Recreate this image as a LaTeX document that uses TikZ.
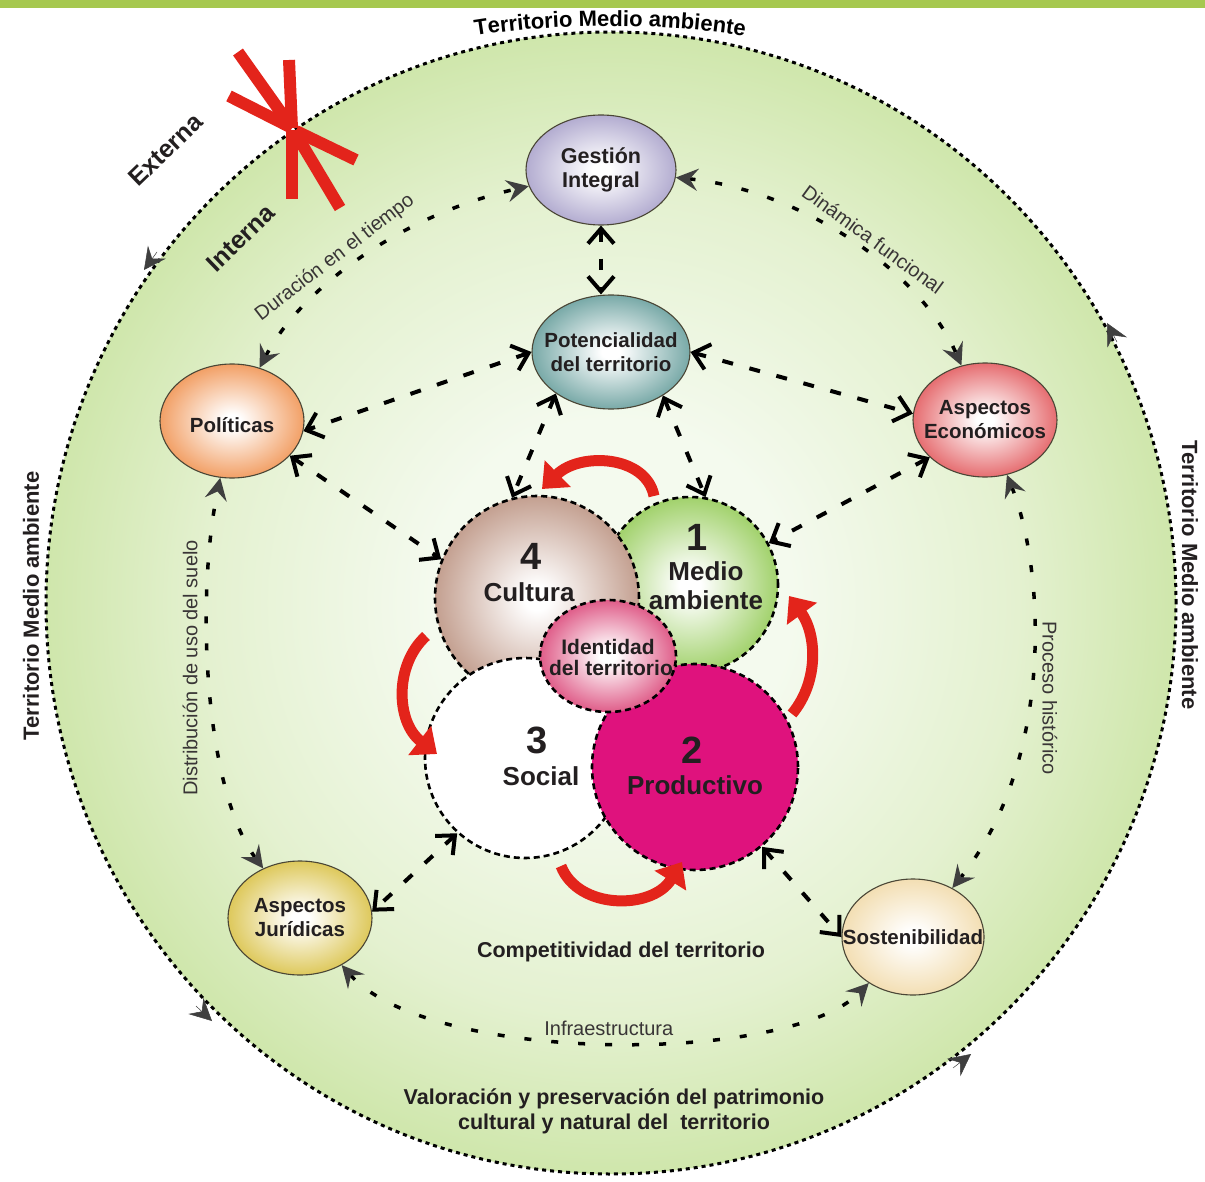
\documentclass[tikz,border=0pt]{standalone}
\usepackage{fontspec}
\setmainfont{Liberation Sans}
\usetikzlibrary{arrows.meta,decorations.text,shapes.geometric,calc}
\definecolor{banner}{HTML}{A6C84F}
\definecolor{cA}{HTML}{F4FAEE}
\definecolor{cB}{HTML}{E4F1D0}
\definecolor{cC}{HTML}{C6E29C}
\definecolor{cD}{HTML}{A8D06A}
\definecolor{cE}{HTML}{9CC957}
\definecolor{ballin}{HTML}{FFFFFF}
\definecolor{ballout}{HTML}{888888}
\definecolor{txt}{HTML}{231F20}
\definecolor{tipgray}{HTML}{3F3F3F}
\definecolor{redA}{HTML}{E3241B}
\definecolor{redB}{HTML}{B01812}
\definecolor{ellline}{HTML}{4A4636}
\definecolor{cGest}{HTML}{A29AC6}
\definecolor{cPot}{HTML}{5A9694}
\definecolor{cPol}{HTML}{EF8A43}
\definecolor{cEco}{HTML}{E04C50}
\definecolor{cJur}{HTML}{D6BC36}
\definecolor{cSost}{HTML}{F0D7A2}
\definecolor{cCul}{HTML}{B68A77}
\definecolor{cMed}{HTML}{8CC74A}
\definecolor{cProd}{HTML}{DF127D}
\definecolor{cIdent}{HTML}{D8386E}
\pgfdeclareradialshading{bigfill}{\pgfpoint{0bp}{0bp}}{color(0bp)=(cA); color(8bp)=(cA); color(18bp)=(cB); color(28bp)=(cC); color(38bp)=(cD); color(50bp)=(cE)}
\pgfdeclareradialshading[ballin,ballout]{softball}{\pgfpoint{0bp}{0bp}}{color(0bp)=(ballin); color(3bp)=(ballin); color(30bp)=(ballout); color(50bp)=(ballout)}
\tikzset{
  barb/.tip={Straight Barb[length=15pt,width=26pt,line width=4pt]},
  gtip/.tip={Stealth[length=22pt,width=22pt,inset=8pt,color=tipgray]},
  rtip/.tip={Triangle[length=22pt,width=36pt]},
}
\begin{document}
\begin{tikzpicture}[x=1pt,y=-1pt,
  every node/.style={text=txt},
  ball/.style={shade, shading=softball, /utils/exec={\colorlet{ballin}{white}\colorlet{ballout}{#1}}},
  sat/.style={ellipse, draw=ellline, line width=1.1pt, minimum width=144pt, minimum height=114pt, inner sep=0pt},
  sattxt/.style={align=center, font=\bfseries\fontsize{20.5}{24}\selectfont},
  cen/.style={circle, draw=black, line width=2.6pt, dash pattern=on 6pt off 4pt, inner sep=0pt},
  heavy/.style={draw=black, line width=4pt, dash pattern=on 11pt off 17pt, arrows={barb-barb}},
  ring/.style={draw=black, line width=3.5pt, dash pattern=on 7pt off 20pt, arrows={gtip-gtip}},
  ringlbl/.style={font=\fontsize{20}{22}\selectfont, text=txt!90, inner sep=5pt},
  outer/.style={draw=black, line width=3pt, dash pattern=on 4pt off 4pt},
  otip/.style={draw=tipgray, line width=0.5pt, arrows={-gtip}},
  redarr/.style={draw=redA, line width=11pt, arrows={-rtip}},
  redx/.style={draw=redA, line width=12pt},
  big/.style={font=\bfseries\fontsize{26}{30}\selectfont},
  num/.style={font=\bfseries\fontsize{38}{40}\selectfont},
  lbl/.style={font=\bfseries\fontsize{21.5}{26}\selectfont, align=center},
  rimtxt/.style={font=\bfseries\fontsize{22}{24}\selectfont},
]
\useasboundingbox (0,0) rectangle (1205,1182);
\fill[white] (0,0) rectangle (1205,1182);
\fill[banner] (0,0) rectangle (1205,8);

% big circle
\shade[shading=bigfill] (611,603) ellipse [x radius=565pt, y radius=571pt];
\draw[outer] (611,603) ellipse [x radius=565pt, y radius=571pt];

% outer circle direction arrowheads
\coordinate (o1a) at (157,252); \coordinate (o1b) at (144,270);
\coordinate (o2a) at (1117,342); \coordinate (o2b) at (1107,323);
\coordinate (o3a) at (196,1006); \coordinate (o3b) at (212,1021);
\coordinate (o4a) at (953,1068); \coordinate (o4b) at (971,1054);
\draw[otip] (o1a) -- (o1b);
\draw[otip] (o2a) -- (o2b);
\draw[otip] (o3a) -- (o3b);
\draw[otip] (o4a) -- (o4b);

% labels on the outer circle
\path[decorate, decoration={text along path, text align=center,
  text={|\bfseries\fontsize{22}{24}\selectfont|Territorio Medio ambiente}}]
  (445,42) .. controls (535,21) and (685,21) .. (775,42);
\node[rotate=90, rimtxt] (tleft) at (31,606) {Territorio Medio ambiente};
\node[rotate=-90, rimtxt] (tright) at (1190,575) {Territorio Medio ambiente};
\node[rotate=44, font=\bfseries\fontsize{25}{28}\selectfont] (ext) at (166,150) {Externa};
\node[rotate=44, font=\bfseries\fontsize{25}{28}\selectfont] (int) at (241,238) {Interna};

% red cross marker
\draw[redx] (238,52) -- (292,128);
\draw[redx] (229,96) -- (292,128);
\draw[redx] (289,60) -- (292,128);
\draw[redx] (292,130) -- (292,199);
\draw[redx] (294,131) -- (340,208);
\draw[redx] (296,131) -- (356,160);

% satellite nodes
\node[sat, ball=cGest, minimum width=150pt, minimum height=110pt] (gest) at (601,170) {};
\node[sat, ball=cPot, minimum width=158pt, minimum height=114pt] (pot) at (611,352) {};
\node[sat, ball=cPol] (pol) at (232,421) {};
\node[sat, ball=cEco] (eco) at (985,420) {};
\node[sat, ball=cJur] (jur) at (300,918) {};
\node[sat, ball=cSost, minimum width=142pt, minimum height=116pt] (sost) at (913,937) {};
\node[sattxt, font=\bfseries\fontsize{21.5}{24}\selectfont] (gestT) at (gest) {Gestión\\Integral};
\node[sattxt, font=\bfseries\fontsize{20.5}{24}\selectfont] (potT) at (pot) {Potencialidad\\del territorio};
\node[sattxt] (polT) at (232,425) {Políticas};
\node[sattxt] (ecoT) at (eco) {Aspectos\\Económicos};
\node[sattxt] (jurT) at (jur) {Aspectos\\Jurídicas};
\node[sattxt] (sostT) at (sost) {Sostenibilidad};

% inner ring connectors
\draw[ring] (pol) .. controls (300,290) and (400,215) .. (gest)
  node[ringlbl, pos=0.44, sloped, above] (l1) {Duración en el tiempo};
\draw[ring] (gest) .. controls (800,190) and (920,270) .. (eco)
  node[ringlbl, pos=0.55, sloped, above] (l2) {Dinámica funcional};
\draw[ring] (jur) .. controls (205,790) and (195,600) .. (pol);
\node[ringlbl, rotate=90] (l3) at (190,668) {Distribución de uso del suelo};
\draw[ring] (eco) .. controls (1045,570) and (1055,760) .. (sost);
\node[ringlbl, rotate=-90] (l4) at (1050,698) {Proceso histórico};
\draw[ring] (jur) .. controls (430,1065) and (790,1065) .. (sost)
  node[ringlbl, pos=0.5, above] (l5) {Infraestructura};

% central circles
\node[cen, ball=cMed, minimum size=176pt] (med) at (690,585) {};
\node[cen, ball=cCul, minimum size=204pt] (cul) at (537,598) {};
\node[cen, fill=white, minimum size=200pt] (soc) at (525,758) {};
\node[cen, fill=cProd, minimum size=206pt] (prod) at (695,767) {};
\node[cen, ellipse, ball=cIdent, minimum width=136pt, minimum height=112pt] (ident) at (608,656) {};

\node[num] (n4) at (531,556) {4};
\node[big] (t4) at (529,592) {Cultura};
\node[num] (n1) at (697,537) {1};
\node[big] (t1a) at (706,571) {Medio};
\node[big] (t1b) at (706,600) {ambiente};
\node[font=\bfseries\fontsize{21}{22}\selectfont] (ti1) at (608,647) {Identidad};
\node[font=\bfseries\fontsize{21}{22}\selectfont] (ti2) at (611,668) {del territorio};
\node[num] (n3) at (537,740) {3};
\node[big] (t3) at (541,776) {Social};
\node[num] (n2) at (692,750) {2};
\node[big] (t2) at (695,785) {Productivo};

% heavy dashed connectors
\draw[heavy] (gest.south) -- (gest.south |- pot.north);
\draw[heavy] (pot.180) -- (pol.352);
\draw[heavy] (pot.0) -- (eco.175);
\draw[heavy] (pot.217) -- (cul.104);
\draw[heavy] (pot.320) -- (med.80);
\draw[heavy] (pol.329) -- (cul.158);
\draw[heavy] (eco.214) -- (med.28);
\draw[heavy] (soc.228) -- (jur.5);
\draw[heavy] (prod.310) -- (sost.180);

% red rotation arrows
\coordinate (ra1) at (654,496); \coordinate (ra2) at (542,489);
\coordinate (rb1) at (792,714); \coordinate (rb2) at (789,596);
\coordinate (rc1) at (426,636); \coordinate (rc2) at (437,754);
\coordinate (rd1) at (561,866); \coordinate (rd2) at (682,862);
\draw[redarr] (ra1) .. controls (646,455) and (580,452) .. (ra2);
\draw[redarr] (rb1) .. controls (820,680) and (816,633) .. (rb2);
\draw[redarr] (rc1) .. controls (394,665) and (396,722) .. (rc2);
\draw[redarr] (rd1) .. controls (578,910) and (652,910) .. (rd2);

% bottom texts
\node[lbl] (comp) at (621,952) {Competitividad del territorio};
\node[lbl, font=\bfseries\fontsize{21.5}{25}\selectfont] (valor) at (614,1111) {Valoración y preservación del patrimonio\\cultural y natural del\ \ territorio};
\end{tikzpicture}
\end{document}
